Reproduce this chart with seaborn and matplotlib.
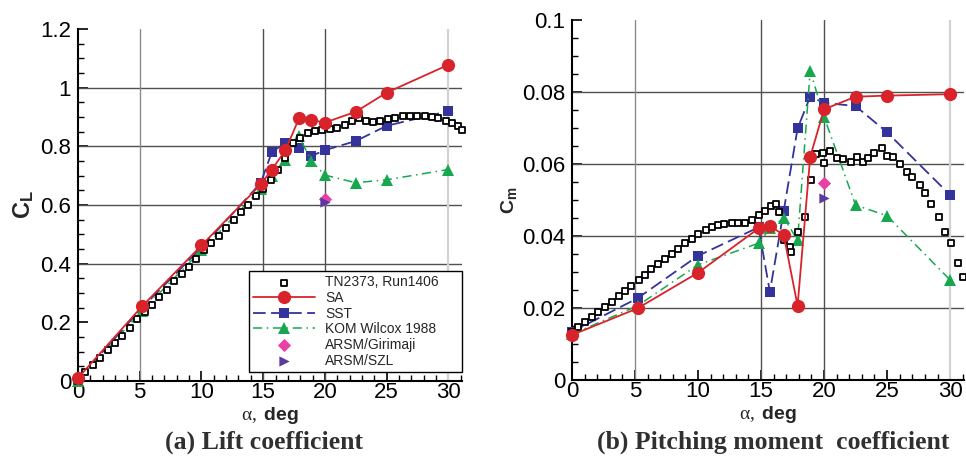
# Lift and pitching moment vs angle of attack, CFD models vs TN2373 experiment
import numpy as np
import pandas as pd
import seaborn as sns
import matplotlib
matplotlib.use('Agg')
import matplotlib.pyplot as plt
from matplotlib.ticker import MultipleLocator, FuncFormatter

# CFD angles of attack (deg)
alpha_cfd = [0, 5.2, 10, 14.8, 15.7, 16.8, 17.9, 18.9, 20, 22.5, 25, 30]

# lift coefficient, CFD
cl_sa = [0.01, 0.255, 0.462, 0.67, 0.721, 0.786, 0.895, 0.89, 0.881, 0.918, 0.983, 1.078]
cl_sst = [0.005, 0.25, 0.455, 0.675, 0.78, 0.812, 0.795, 0.767, 0.787, 0.818, 0.87, 0.92]
cl_kom = [0.0, 0.24, 0.445, 0.655, 0.698, 0.755, 0.835, 0.75, 0.702, 0.676, 0.686, 0.721]

# pitching moment coefficient, CFD
cm_sa = [0.0125, 0.0199, 0.0298, 0.0421, 0.0428, 0.0403, 0.0206, 0.062, 0.0752, 0.0787, 0.079, 0.0794]
cm_sst = [0.0134, 0.0227, 0.0345, 0.0424, 0.0245, 0.047, 0.0699, 0.0787, 0.077, 0.0761, 0.0688, 0.0514]
cm_kom = [0.0127, 0.0206, 0.032, 0.038, 0.0421, 0.045, 0.0389, 0.0859, 0.0731, 0.0486, 0.0456, 0.0278]

# ARSM single points at 20 deg
alpha_arsm = [20]
cl_girimaji = [0.622]
cl_szl = [0.61]
cm_girimaji = [0.0546]
cm_szl = [0.0505]

# experiment TN2373, Run1406 - lift
exp_alpha_cl = [0.0, 0.6, 1.2, 1.8, 2.4, 3.0, 3.6, 4.2, 4.8, 5.4, 6.0, 6.6, 7.2, 7.8,
                8.4, 9.0, 9.6, 10.2, 10.8, 11.4, 12.0, 12.6, 13.2, 13.8, 14.4, 15.0,
                15.6, 16.2, 16.8, 17.4, 18.0, 18.6, 19.2, 19.8, 20.4, 21.0, 21.6, 22.2,
                22.8, 23.3, 23.9, 24.5, 25.1, 25.7, 26.3, 26.9, 27.5, 28.1, 28.7, 29.2,
                29.8, 30.3, 30.8, 31.1]
exp_cl = [0.0, 0.03, 0.055, 0.08, 0.105, 0.13, 0.155, 0.18, 0.21, 0.235, 0.26, 0.285,
          0.31, 0.34, 0.365, 0.39, 0.415, 0.445, 0.47, 0.495, 0.52, 0.55, 0.575, 0.6,
          0.63, 0.655, 0.685, 0.72, 0.76, 0.81, 0.83, 0.845, 0.852, 0.855, 0.858, 0.862,
          0.872, 0.887, 0.895, 0.885, 0.882, 0.888, 0.893, 0.897, 0.902, 0.905, 0.905,
          0.903, 0.9, 0.895, 0.888, 0.878, 0.868, 0.855]

# experiment TN2373, Run1406 - pitching moment
exp_alpha_cm = [0.0, 0.5, 1.0, 1.55, 2.1, 2.6, 3.15, 3.7, 4.2, 4.7, 5.3, 5.8, 6.3, 6.85,
                7.4, 7.9, 8.4, 9.0, 9.5, 10.0, 10.6, 11.1, 11.6, 12.1, 12.7, 13.2, 13.7,
                14.3, 14.8, 15.3, 15.8, 16.2, 16.4, 16.8, 17.3, 17.4, 17.95, 18.5, 19.0,
                19.4, 19.95, 20.0, 20.5, 21.0, 21.5, 22.1, 22.6, 23.1, 23.5, 24.0, 24.6,
                25.0, 25.5, 26.0, 26.6, 27.0, 27.6, 28.0, 28.5, 29.1, 29.6, 30.05, 30.6, 31.0]
exp_cm = [0.0134, 0.0148, 0.0162, 0.0176, 0.019, 0.0204, 0.0218, 0.0233, 0.0247, 0.0261,
          0.0278, 0.0292, 0.0307, 0.0321, 0.0335, 0.035, 0.0364, 0.038, 0.0392, 0.0405,
          0.0417, 0.0426, 0.043, 0.0433, 0.0435, 0.0435, 0.0435, 0.0444, 0.0458, 0.047,
          0.0484, 0.049, 0.0468, 0.0389, 0.037, 0.0355, 0.0412, 0.0452, 0.0556, 0.0628,
          0.0631, 0.0602, 0.0637, 0.0616, 0.0613, 0.0605, 0.062, 0.0605, 0.0618, 0.0631,
          0.0644, 0.0622, 0.0619, 0.06, 0.0579, 0.0565, 0.0542, 0.0519, 0.049, 0.0452,
          0.0412, 0.038, 0.0326, 0.0287]

RED = '#d9232a'
BLUE = '#34339b'
GREEN = '#17a84f'
PINK = '#ec3fa6'
PURPLE = '#5a3a9e'

sns.set_theme(style='white')
plt.rcParams['font.family'] = ['Liberation Sans', 'DejaVu Sans']
plt.rcParams['mathtext.fontset'] = 'custom'
plt.rcParams['mathtext.rm'] = 'Liberation Serif'
plt.rcParams['mathtext.bf'] = 'Liberation Sans:bold'
plt.rcParams['mathtext.it'] = 'Liberation Serif:italic'


def draw_panel(ax, y_sa, y_sst, y_kom, exp_x, exp_y, y_gir, y_szl, legend):
    sns.scatterplot(x=exp_x, y=exp_y, ax=ax, marker='s', s=14, color='white',
                    edgecolor='black', linewidth=1.3, label='TN2373, Run1406',
                    zorder=5, clip_on=False, legend=False)
    sns.lineplot(x=alpha_cfd, y=y_sa, ax=ax, color=RED, marker='o', markersize=9.5,
                 markeredgewidth=0, lw=1.3, label='SA', estimator=None, sort=False,
                 zorder=6, clip_on=False, legend=False)
    sns.lineplot(x=alpha_cfd, y=y_sst, ax=ax, color=BLUE, marker='s', markersize=7.5,
                 markeredgewidth=0, lw=1.3, linestyle=(0, (7, 3)), label='SST',
                 estimator=None, sort=False, zorder=4, clip_on=False, legend=False)
    sns.lineplot(x=alpha_cfd, y=y_kom, ax=ax, color=GREEN, marker='^', markersize=8,
                 markeredgewidth=0, lw=1.1, linestyle=(0, (6, 3, 1, 3)),
                 label='KOM Wilcox 1988', estimator=None, sort=False, zorder=4,
                 clip_on=False, legend=False)
    sns.scatterplot(x=alpha_arsm, y=y_gir, ax=ax, marker='D', s=45, color=PINK,
                    linewidth=0, label='ARSM/Girimaji', zorder=7, legend=False)
    sns.scatterplot(x=alpha_arsm, y=y_szl, ax=ax, marker='>', s=55, color=PURPLE,
                    linewidth=0, label='ARSM/SZL', zorder=7, legend=False)
    if legend:
        handles, labels = ax.get_legend_handles_labels()
        leg = ax.legend(handles, labels, loc='lower left', mode='expand',
                        bbox_to_anchor=(0.445, 0.026, 0.555, 0.295), borderaxespad=0,
                        fontsize=10, handlelength=4.5, handletextpad=0.7,
                        labelspacing=0.12, borderpad=0.3, fancybox=False,
                        framealpha=1, edgecolor='black')
        leg.get_frame().set_linewidth(1.0)
        leg.set_zorder(10)


def style_panel(ax, ymax, ymajor, yminor, hgrid):
    ax.set_xlim(0, 31.1)
    ax.set_ylim(0, ymax)
    for y in hgrid:
        ax.axhline(y, color='#505050', lw=1.0, zorder=1)
    for x, c in [(5, '#8a8a8a'), (15, '#505050'), (20, '#505050'), (30, '#d2d2d2')]:
        ax.axvline(x, color=c, lw=1.0 if x < 30 else 1.6, zorder=1)
    ax.xaxis.set_major_locator(MultipleLocator(5))
    ax.xaxis.set_minor_locator(MultipleLocator(1))
    ax.yaxis.set_major_locator(MultipleLocator(ymajor))
    ax.yaxis.set_minor_locator(MultipleLocator(yminor))
    fmt = FuncFormatter(lambda v, p: f'{v:g}')
    ax.xaxis.set_major_formatter(fmt)
    ax.yaxis.set_major_formatter(fmt)
    ax.tick_params(which='both', direction='in', top=False, right=False,
                   left=True, bottom=True, colors='black')
    ax.tick_params(which='major', length=7, width=1.2, labelsize=16)
    ax.tick_params(axis='x', which='major', pad=1)
    ax.tick_params(axis='y', which='major', pad=5)
    ax.tick_params(which='minor', length=4, width=1.0)
    for side in ['top', 'right']:
        ax.spines[side].set_visible(False)
    for side in ['left', 'bottom']:
        ax.spines[side].set_color('black')
        ax.spines[side].set_linewidth(1.5)
    ax.set_xlabel(r'$\mathrm{\alpha,}\ \mathbf{deg}$', fontsize=14, labelpad=1)


fig = plt.figure(figsize=(9.66, 4.57), dpi=100)
ax1 = fig.add_axes([0.0807, 0.1663, 0.3975, 0.7702])
ax2 = fig.add_axes([0.5921, 0.1685, 0.4058, 0.7877])

draw_panel(ax1, cl_sa, cl_sst, cl_kom, exp_alpha_cl, exp_cl, cl_girimaji, cl_szl, True)
style_panel(ax1, 1.2, 0.2, 0.05, [0.4, 0.6, 0.8, 1.0])
ax1.set_ylabel(r'$\mathbf{C_L}$', fontsize=17)
ax1.yaxis.set_label_coords(-0.11, 0.5)

draw_panel(ax2, cm_sa, cm_sst, cm_kom, exp_alpha_cm, exp_cm, cm_girimaji, cm_szl, False)
style_panel(ax2, 0.1, 0.02, 0.005, [0.02, 0.04, 0.06, 0.08])
ax2.set_ylabel(r'$\mathbf{C_m}$', fontsize=14)
ax2.yaxis.set_label_coords(-0.135, 0.5)

fig.text(0.273, 0.033, '(a) Lift coefficient', family='Liberation Serif',
         weight='bold', fontsize=18.5, ha='center', va='center', color='#303030')
fig.text(0.800, 0.033, '(b) Pitching moment  coefficient', family='Liberation Serif',
         weight='bold', fontsize=18.5, ha='center', va='center', color='#303030')

fig.savefig('out.png', dpi=100)
